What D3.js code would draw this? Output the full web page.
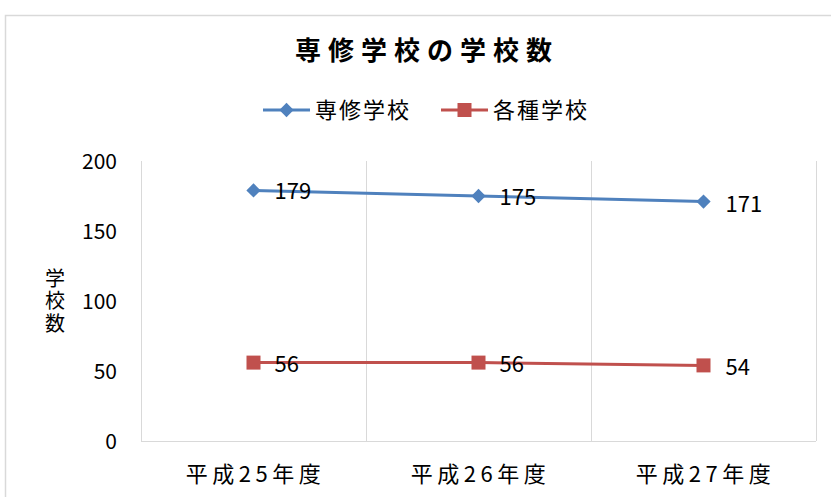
<!DOCTYPE html>
<html><head><meta charset="utf-8">
<script src="https://cdn.jsdelivr.net/npm/d3@7"></script>
<style>
html,body{margin:0;padding:0;background:#fff;}
text{font-family:"Noto Sans CJK JP","Noto Sans",sans-serif;}
</style></head>
<body>
<svg id="c" width="831" height="497"></svg>
<script>
const categories = ["平成25年度","平成26年度","平成27年度"];
const seriesNames = ["専修学校","各種学校"];
const senshu = [179,175,171];
const kakushu = [56,56,54];
const yTicks = [0,50,100,150,200];
const colors = ["#4F81BD","#C0504D"];

const svg = d3.select("#c");
// chart frame
svg.append("rect").attr("x",5.5).attr("y",15.5).attr("width",840).attr("height",500)
  .attr("fill","#fff").attr("stroke","#d9d9d9").attr("stroke-width",1.5);

const pLeft=141, pRight=816, pTop=161, pBottom=441;
const x = d3.scaleBand().domain(categories).range([pLeft,pRight]).padding(0);
const y = d3.scaleLinear().domain([0,200]).range([pBottom,pTop]);

// vertical gridlines at band boundaries
const bounds = categories.map(c=>x(c)).concat([pRight]);
svg.append("g").selectAll("line").data(bounds).join("line")
  .attr("x1",d=>d+0.5).attr("x2",d=>d+0.5).attr("y1",pTop).attr("y2",pBottom)
  .attr("stroke","#d9d9d9").attr("stroke-width",1);
svg.append("line").attr("x1",pLeft).attr("x2",pRight).attr("y1",pBottom+0.5).attr("y2",pBottom+0.5)
  .attr("stroke","#d9d9d9").attr("stroke-width",1);

// y axis labels
svg.append("g").selectAll("text").data(yTicks).join("text")
  .attr("x",117).attr("y",d=>y(d)).attr("dy","0.36em").attr("text-anchor","end")
  .attr("font-size",21).attr("fill","#000").text(d=>d);

// y title, vertical writing
svg.append("text").attr("x",55).attr("y",302).attr("text-anchor","middle")
  .style("writing-mode","vertical-rl").attr("letter-spacing","2.5px")
  .attr("font-size",20).attr("fill","#000").text("学校数");

// x labels
svg.append("g").selectAll("text").data(categories).join("text")
  .attr("x",d=>x(d)+x.bandwidth()/2+2).attr("y",474).attr("dy","0.36em").attr("text-anchor","middle")
  .attr("font-size",22).attr("letter-spacing","4.5px").attr("fill","#000").text(d=>d);

const cx = d=>x(d)+x.bandwidth()/2;
const line = d3.line().x((d,i)=>cx(categories[i])).y(d=>y(d));
const diamond = d3.symbol().type(d3.symbolDiamond2).size(130);

const data=[senshu,kakushu];
data.forEach((vals,si)=>{
  svg.append("path").datum(vals).attr("d",line).attr("fill","none")
    .attr("stroke",colors[si]).attr("stroke-width",3);
  const g=svg.append("g");
  vals.forEach((v,i)=>{
    const px=cx(categories[i]), py=y(v);
    if(si===0){
      g.append("path").attr("d",diamond()).attr("transform",`translate(${px},${py})`).attr("fill",colors[0]);
    } else {
      g.append("rect").attr("x",px-7).attr("y",py-7).attr("width",14).attr("height",14).attr("fill",colors[1]);
    }
    const last = i===vals.length-1;
    svg.append("text").attr("x",px+(last?22:21)).attr("y",py+(last?2:1)).attr("dy","0.36em")
      .attr("font-size",22).attr("fill","#000").text(v);
  });
});

// title
svg.append("text").attr("x",427).attr("y",51).attr("text-anchor","middle").attr("dy","0.36em")
  .attr("font-size",26).attr("font-weight","bold").attr("letter-spacing","7px").attr("fill","#000")
  .text("専修学校の学校数");

// legend
const legX=[263,441];
seriesNames.forEach((n,i)=>{
  const lx=legX[i], ly=110;
  svg.append("line").attr("x1",lx).attr("x2",lx+47).attr("y1",ly).attr("y2",ly)
    .attr("stroke",colors[i]).attr("stroke-width",3);
  if(i===0) svg.append("path").attr("d",diamond()).attr("transform",`translate(${lx+23.5},${ly})`).attr("fill",colors[0]);
  else svg.append("rect").attr("x",lx+23.5-7).attr("y",ly-7).attr("width",14).attr("height",14).attr("fill",colors[1]);
  svg.append("text").attr("x",lx+52).attr("y",ly).attr("dy","0.36em").attr("font-size",22)
    .attr("letter-spacing","2px").attr("fill","#000").text(n);
});
</script>
</body></html>
